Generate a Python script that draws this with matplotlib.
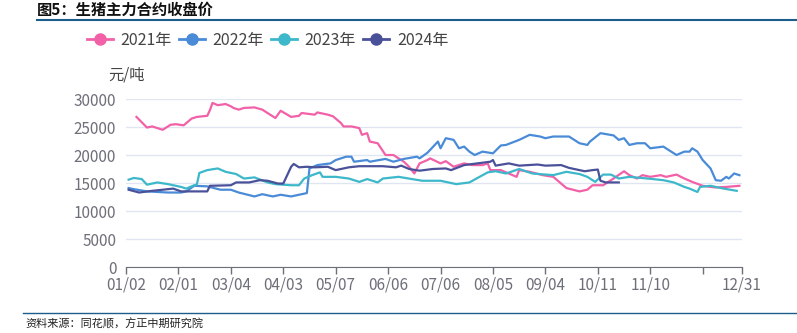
import matplotlib
matplotlib.use("Agg")
import matplotlib.pyplot as plt
from matplotlib.lines import Line2D

plt.rcParams['font.family'] = ['Noto Sans CJK SC', 'DejaVu Sans']

# trading-day index on the category axis
tick_pos = [0, 20, 40, 60, 80, 100, 120, 140, 160, 180, 200, 220, 235]
tick_labels = ['01/02', '02/01', '03/04', '04/03', '05/07', '06/06', '07/06',
               '08/05', '09/04', '10/11', '11/10', '', '12/31']

x2021 = [4, 8, 10, 14, 17, 19, 22, 25, 27, 31, 32, 33, 35, 38, 40, 41, 43, 45, 49, 52,
         55, 57, 59, 63, 66, 67, 72, 73, 77, 79, 82, 83, 86, 89, 90, 92, 93, 96, 99, 102,
         104, 106, 108, 110, 112, 115, 116, 120, 122, 125, 129, 132, 136, 138, 139, 143,
         149, 150, 154, 159, 163, 166, 168, 173, 176, 178, 182, 186, 190, 192, 195, 197,
         200, 204, 206, 210, 213, 216, 220, 223, 225, 229, 234]
y2021 = [26800, 24900, 25100, 24500, 25400, 25500, 25300, 26500, 26800, 27000, 28000,
         29300, 28900, 29100, 28700, 28400, 28100, 28400, 28500, 28100, 27200, 26600,
         27900, 26800, 27000, 27500, 27200, 27600, 27200, 26900, 25700, 25100, 25100,
         24800, 23600, 23900, 22400, 22100, 20000, 20000, 19400, 18800, 17900, 16700,
         18500, 19100, 19400, 18500, 18900, 17900, 18500, 18200, 18200, 18500, 17300,
         17300, 16100, 17300, 17000, 16400, 16100, 14900, 14100, 13500, 13800, 14600,
         14600, 15800, 17100, 16400, 15800, 16400, 16100, 16400, 16100, 16500, 15800,
         15200, 14500, 14300, 14200, 14300, 14500]

x2022 = [1, 3, 8, 16, 21, 23, 26, 31, 36, 40, 43, 49, 52, 56, 59, 63, 66, 69, 70, 73,
         78, 80, 84, 86, 87, 92, 93, 99, 102, 106, 111, 112, 115, 119, 120, 122, 125, 127,
         129, 131, 133, 136, 140, 143, 145, 150, 154, 158, 160, 163, 167, 169, 173, 176,
         177, 181, 186, 188, 190, 192, 195, 198, 200, 205, 207, 210, 213, 215, 216, 218,
         220, 223, 225, 227, 229, 230, 232, 234]
y2022 = [14100, 13900, 13500, 13300, 13300, 13500, 14500, 14400, 13800, 13800, 13300,
         12600, 13000, 12600, 12900, 12600, 12900, 13200, 17600, 18200, 18500, 19100,
         19700, 19700, 18800, 19100, 18800, 19300, 18800, 19300, 19700, 19400, 20400,
         22400, 21200, 23000, 22700, 21200, 21500, 20600, 20000, 20600, 20300, 21700,
         21800, 22700, 23600, 23300, 23000, 23300, 23300, 23300, 22100, 21800, 22400,
         23900, 23500, 22700, 23000, 21800, 22100, 22100, 21200, 21500, 20900, 20000,
         20600, 20600, 21200, 20600, 19100, 17600, 15500, 15400, 16100, 15800, 16700,
         16400]

x2023 = [1, 3, 6, 8, 12, 16, 21, 23, 26, 27, 28, 31, 35, 38, 42, 45, 49, 54, 57, 63,
         66, 68, 71, 74, 75, 80, 85, 89, 92, 96, 98, 104, 113, 120, 126, 131, 138, 141,
         145, 150, 155, 163, 168, 173, 176, 179, 182, 185, 188, 192, 199, 205, 209, 213,
         215, 218, 219, 223, 228, 233]
y2023 = [15600, 15900, 15700, 14700, 15100, 14800, 14300, 14000, 14600, 14700, 16800,
         17300, 17600, 17000, 16600, 15800, 16000, 15100, 14800, 14600, 14600, 15800,
         16400, 16900, 16100, 16100, 15800, 15200, 15700, 15100, 15800, 16100, 15400,
         15400, 14800, 15100, 16900, 17100, 16700, 17500, 16700, 16400, 17000, 16600,
         16100, 15200, 16500, 16500, 15800, 16100, 15800, 15500, 15100, 14300, 14000,
         13400, 14300, 14500, 14000, 13600]

x2024 = [1, 5, 10, 18, 21, 31, 32, 40, 42, 47, 51, 54, 58, 60, 63, 64, 66, 69, 72, 77,
         80, 85, 89, 93, 98, 103, 105, 108, 112, 117, 122, 124, 129, 134, 139, 140, 141,
         146, 150, 157, 160, 166, 169, 173, 175, 178, 180, 181, 183, 188]
y2024 = [13800, 13300, 13600, 14000, 13500, 13500, 14500, 14600, 15100, 15100, 15500,
         15400, 14900, 14900, 17900, 18400, 17800, 17900, 17800, 17900, 17300, 17800,
         18000, 18000, 18000, 17800, 18100, 17500, 17200, 17500, 17600, 17300, 18200,
         18500, 18800, 19100, 18100, 18500, 18100, 18300, 18100, 18200, 17700, 17300,
         17100, 17300, 17400, 15400, 15100, 15100]

series = [('2021年', x2021, y2021, '#F261A8'),
          ('2022年', x2022, y2022, '#4A8BD8'),
          ('2023年', x2023, y2023, '#3CB8CA'),
          ('2024年', x2024, y2024, '#4A5199')]

fig = plt.figure(figsize=(7.97, 3.33), dpi=100)
ax = fig.add_axes([126 / 797, 1 - 267 / 333, 616 / 797, 168 / 333])

for name, xs, ys, c in series:
    ax.plot(xs, ys, color=c, lw=1.6, solid_joinstyle='round')

ax.set_xlim(0, 235)
ax.set_ylim(0, 30000)
ax.set_yticks(range(0, 30001, 5000))
ax.set_xticks(tick_pos)
ax.set_xticklabels(tick_labels)
ax.grid(axis='y', color='#E0E6F1', lw=1)
ax.set_axisbelow(True)
for s in ['left', 'right', 'top']:
    ax.spines[s].set_visible(False)
ax.spines['bottom'].set_color('#6E7079')
ax.tick_params(axis='y', length=0, pad=7, labelsize=11, labelcolor='#6E7079')
ax.tick_params(axis='x', length=5, width=1, color='#6E7079', pad=2,
               labelsize=11, labelcolor='#6E7079')

fig.text(108 / 797, 1 - 75 / 333, '元/吨', fontsize=11, color='#444444', va='center')

handles = [Line2D([], [], color=c, lw=2, marker='o', markersize=8) for _, _, _, c in series]
fig.legend(handles, [s[0] for s in series], loc='center left', ncol=4, frameon=False,
           bbox_to_anchor=(76 / 797, 1 - 40 / 333), fontsize=11.5, handlelength=1.6,
           handletextpad=0.5, columnspacing=0.45, labelcolor='#444444',
           borderpad=0.2)

# title and framing lines
fig.text(37 / 797, 1 - 10 / 333, '图5：生猪主力合约收盘价', fontsize=11, fontweight='bold',
         va='center', ha='left', color='#111111')
fig.add_artist(Line2D([37 / 797, 1], [1 - 20 / 333, 1 - 20 / 333], color='#1B5E8C', lw=1.5))
fig.add_artist(Line2D([23 / 797, 1], [1 - 313 / 333, 1 - 313 / 333], color='#1B5E8C', lw=1))
fig.text(25 / 797, 1 - 324 / 333, '资料来源：同花顺，方正中期研究院', fontsize=8, style='italic',
         va='center', ha='left', color='#222222')

fig.savefig('out.png', dpi=100)
